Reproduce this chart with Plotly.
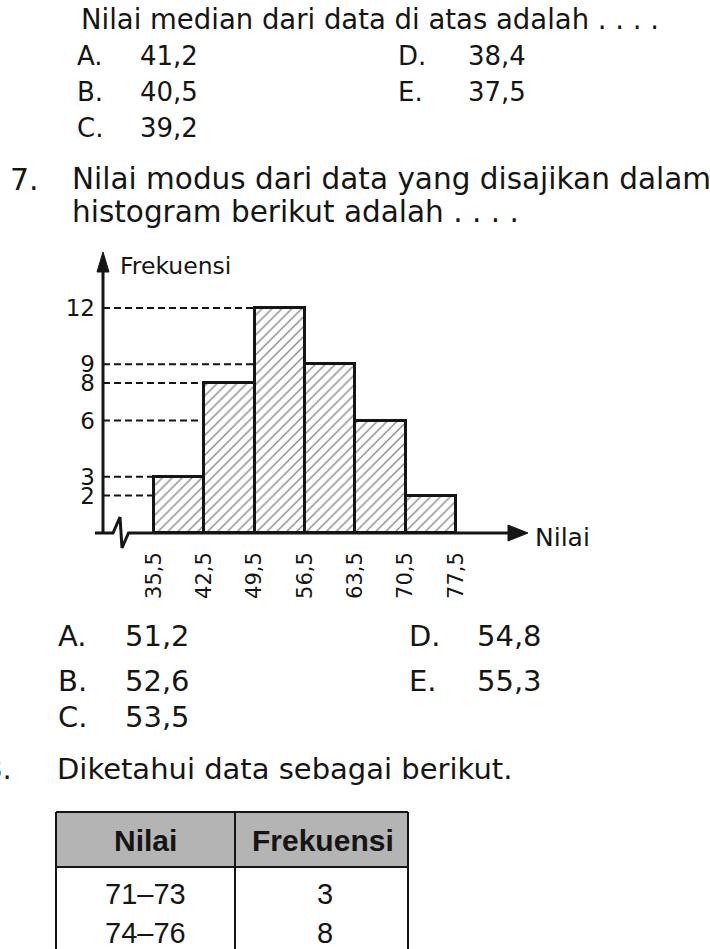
import plotly.graph_objects as go

# ---------------- data ----------------
bin_edges = [35.5, 42.5, 49.5, 56.5, 63.5, 70.5, 77.5]
frekuensi = [3, 8, 12, 9, 6, 2]
edge_labels = ["35,5", "42,5", "49,5", "56,5", "63,5", "70,5", "77,5"]
y_ticks = [2, 3, 6, 8, 9, 12]
y_tick_labels = ["2", "3", "6", "8", "9", "12"]
x_title = "Nilai"
y_title = "Frekuensi"

q6_text = "Nilai median dari data di atas adalah . . . ."
q6_letters = ["A.", "B.", "C.", "D.", "E."]
q6_options = ["41,2", "40,5", "39,2", "38,4", "37,5"]

q7_number = "7."
q7_lines = ["Nilai modus dari data yang disajikan dalam",
            "histogram berikut adalah . . . ."]
q7_letters = ["A.", "B.", "C.", "D.", "E."]
q7_options = ["51,2", "52,6", "53,5", "54,8", "55,3"]

q8_number = "8."
q8_text = "Diketahui data sebagai berikut."
table_header = ["Nilai", "Frekuensi"]
table_nilai = ["71–73", "74–76"]
table_frek = ["3", "8"]

# ---------------- layout helpers ----------------
W, H = 710, 949
def px(x):
    return x / W
def py(y):
    return 1 - y / H

FONT = "DejaVu Sans"
TFONT = "Liberation Sans"
INK = "#151515"

# pixel calibration of the histogram
X_AXIS_PX, X_RIGHT_PX = 103, 600
FIRST_EDGE_PX, LAST_EDGE_PX = 154, 456
BASE_PX, TOP_PX = 533, 250
Y12_PX = 308
kx = (LAST_EDGE_PX - FIRST_EDGE_PX) / (bin_edges[-1] - bin_edges[0])
x_lo = bin_edges[0] - (FIRST_EDGE_PX - X_AXIS_PX) / kx
x_hi = bin_edges[0] + (X_RIGHT_PX - FIRST_EDGE_PX) / kx
ky = (BASE_PX - Y12_PX) / 12.0
y_hi = (BASE_PX - TOP_PX) / ky

fig = go.Figure()

# dashed guide lines from the y axis to the first bar reaching each level
gx, gy = [], []
for v in y_ticks:
    idx = next(i for i, f in enumerate(frekuensi) if f >= v)
    gx += [x_lo, bin_edges[idx], None]
    gy += [v, v, None]
fig.add_trace(go.Scatter(x=gx, y=gy, mode="lines", hoverinfo="skip",
                         line=dict(color=INK, width=2, dash="7px,4px"),
                         showlegend=False))

centers = [(bin_edges[i] + bin_edges[i + 1]) / 2 for i in range(len(frekuensi))]
widths = [bin_edges[i + 1] - bin_edges[i] for i in range(len(frekuensi))]
fig.add_trace(go.Bar(
    x=centers, y=frekuensi, width=widths, showlegend=False,
    marker=dict(color="white",
                line=dict(color=INK, width=3),
                pattern=dict(shape="/", fgcolor=INK, bgcolor="white",
                             size=7, solidity=0.2)),
))

shapes = []
def line(x0, y0, x1, y1, w=3):
    shapes.append(dict(type="line", xref="paper", yref="paper",
                       x0=px(x0), y0=py(y0), x1=px(x1), y1=py(y1),
                       line=dict(color=INK, width=w)))
def path(pts, fill=True, w=3):
    d = "M " + " L ".join(f"{px(a)},{py(b)}" for a, b in pts)
    if fill:
        d += " Z"
    shapes.append(dict(type="path", xref="paper", yref="paper", path=d,
                       fillcolor=INK if fill else None,
                       line=dict(color=INK, width=w if not fill else 1)))

# y axis with arrow
line(X_AXIS_PX, BASE_PX + 1, X_AXIS_PX, 268)
path([(X_AXIS_PX, 252), (X_AXIS_PX - 6, 272), (X_AXIS_PX + 6, 272)])
# x axis with break symbol and arrow
path([(95, BASE_PX), (113, BASE_PX), (120, 517), (122, 548), (128.5, BASE_PX),
      (512, BASE_PX)], fill=False)
path([(528, BASE_PX), (508, BASE_PX - 8), (508, BASE_PX + 8)])

# table
T_L, T_M, T_R = 56, 235, 408
T_TOP, T_HB = 812, 867
shapes.append(dict(type="rect", xref="paper", yref="paper",
                   x0=px(T_L), x1=px(T_R), y0=py(T_TOP), y1=py(T_HB),
                   fillcolor="#b4b4b4", line=dict(width=0), layer="below"))
line(T_L, T_TOP, T_R, T_TOP, 2)
line(T_L, T_HB, T_R, T_HB, 2)
for xv in (T_L, T_M, T_R):
    line(xv, T_TOP, xv, 960, 2)

ann = []
def text(s, x, y, size, anchor="left", font=FONT, bold=False, angle=0):
    t = f"<b>{s}</b>" if bold else s
    ann.append(dict(text=t, x=px(x), y=py(y), xref="paper", yref="paper",
                    xanchor=anchor, yanchor="middle", showarrow=False,
                    textangle=angle,
                    font=dict(family=font, size=size, color=INK)))

# question 6 remainder
text(q6_text, 79, 19, 27.5)
q6_pos = [(75, 138, 56), (75, 138, 92), (75, 138, 128), (396, 466, 56), (396, 466, 92)]
for (lx, vx, yy), l, o in zip(q6_pos, q6_letters, q6_options):
    text(l, lx, yy, 26)
    text(o, vx, yy, 26)

# question 7
text(q7_number, 8, 179, 30)
text(q7_lines[0], 70, 179, 29.5)
text(q7_lines[1], 70, 212, 29.5)
text(y_title, 118, 266, 23.5)
text(x_title, 533, 537, 25)
q7_pos = [(56, 123, 636), (56, 123, 681), (56, 123, 717), (407, 475, 636), (407, 475, 681)]
for (lx, vx, yy), l, o in zip(q7_pos, q7_letters, q7_options):
    text(l, lx, yy, 29)
    text(o, vx, yy, 29)

# question 8 (its number is partly cut off at the left edge, as in the scan)
text(q8_number, 14, 769, 29, anchor="right")
text(q8_text, 55, 769, 29)
text(table_header[0], (T_L + T_M) / 2, 840, 30, anchor="center", font=TFONT, bold=True)
text(table_header[1], (T_M + T_R) / 2 + 1, 840, 30, anchor="center", font=TFONT, bold=True)
for i, (a, b) in enumerate(zip(table_nilai, table_frek)):
    yy = 894 + i * 39
    text(a, (T_L + T_M) / 2, yy, 29, anchor="center", font=TFONT)
    text(b, (T_M + T_R) / 2 + 3, yy, 29, anchor="center", font=TFONT)

fig.update_layout(
    width=W, height=H, margin=dict(l=0, r=0, t=0, b=0),
    paper_bgcolor="white", plot_bgcolor="rgba(0,0,0,0)",
    bargap=0, shapes=shapes, annotations=ann,
    xaxis=dict(domain=[px(X_AXIS_PX), px(X_RIGHT_PX)], range=[x_lo, x_hi],
               showline=False, showgrid=False, zeroline=False,
               tickvals=bin_edges, ticktext=edge_labels, tickangle=-90,
               ticks="", ticklabelstandoff=14,
               tickfont=dict(family=FONT, size=21, color=INK), fixedrange=True),
    yaxis=dict(domain=[py(BASE_PX), py(TOP_PX)], range=[0, y_hi],
               showline=False, showgrid=False, zeroline=False,
               tickvals=y_ticks, ticktext=y_tick_labels,
               ticks="", ticklabelstandoff=7,
               tickfont=dict(family=FONT, size=23, color=INK), fixedrange=True),
)

fig.write_html("out.html", config={"displayModeBar": False})
